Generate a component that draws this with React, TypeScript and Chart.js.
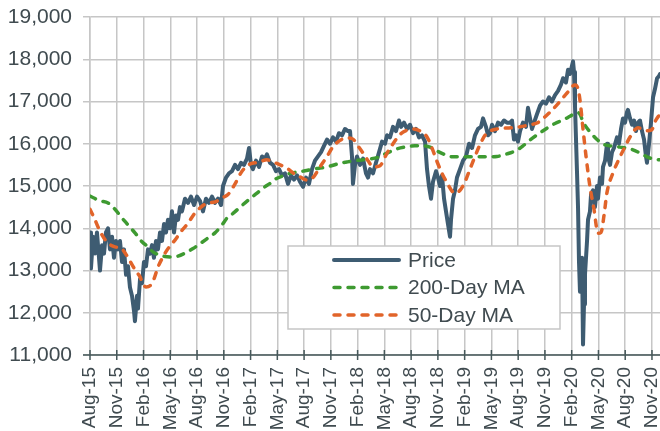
import { useEffect, useRef } from 'react';
import { Chart, registerables } from 'chart.js';

Chart.register(...registerables);

// ---- Data (x = months since start of Aug-2015) ----
const xTickLabels = [
  'Aug-15', 'Nov-15', 'Feb-16', 'May-16', 'Aug-16', 'Nov-16', 'Feb-17', 'May-17',
  'Aug-17', 'Nov-17', 'Feb-18', 'May-18', 'Aug-18', 'Nov-18', 'Feb-19', 'May-19',
  'Aug-19', 'Nov-19', 'Feb-20', 'May-20', 'Aug-20', 'Nov-20',
];
const monthsPerTick = 3;
const xMaxMonths = 63.9;
const yMin = 11000;
const yMax = 19000;
const yStep = 1000;

const seriesLabels = ['Price', '200-Day MA', '50-Day MA'];

const priceData: [number, number][] = [
  [0, 13900], [0.11, 13050], [0.34, 13800], [0.56, 13400], [0.78, 13900], [1.01, 13300], [1.12, 13000],
  [1.35, 13600], [1.57, 13400], [1.79, 13900], [2.02, 14000], [2.24, 13500], [2.47, 13800], [2.69, 13300],
  [2.91, 13700], [3.14, 13500], [3.36, 13700], [3.59, 13200], [3.81, 13500], [4.04, 12900], [4.26, 13100],
  [4.48, 12600], [4.71, 12400], [4.93, 12050], [5.04, 11800], [5.27, 12400], [5.38, 12100], [5.61, 12800],
  [5.83, 12700], [6.05, 13200], [6.28, 13100], [6.5, 13500], [6.73, 13400], [6.95, 13600], [7.17, 13300],
  [7.4, 13700], [7.62, 13500], [7.85, 13900], [8.07, 13700], [8.3, 14100], [8.52, 13900], [8.74, 14200],
  [8.97, 14000], [9.19, 14400], [9.42, 13900], [9.64, 14300], [9.87, 14200], [10.09, 14500], [10.31, 14400],
  [10.65, 14700], [10.99, 14600], [11.32, 14750], [11.66, 14550], [12.0, 14750], [12.33, 14650], [12.67, 14400],
  [13.0, 14700], [13.34, 14600], [13.68, 14750], [14.01, 14600], [14.35, 14700], [14.69, 14550], [14.91, 15000],
  [15.25, 15200], [15.58, 15300], [15.92, 15350], [16.26, 15500], [16.59, 15400], [16.93, 15550], [17.26, 15500],
  [17.6, 15650], [17.83, 15900], [18.05, 15500], [18.27, 15400], [18.61, 15600], [18.95, 15450], [19.28, 15700],
  [19.62, 15650], [19.84, 15750], [20.18, 15550], [20.52, 15500], [20.85, 15350], [21.19, 15400], [21.52, 15250],
  [21.86, 15300], [22.2, 15050], [22.53, 15250], [22.87, 15150], [23.21, 15250], [23.54, 15100], [23.88, 14980],
  [24.22, 15200], [24.55, 15050], [24.89, 15400], [25.22, 15600], [25.56, 15700], [25.9, 15800], [26.23, 15950],
  [26.57, 16100], [26.91, 16000], [27.24, 16150], [27.58, 16050], [27.91, 16250], [28.25, 16200], [28.59, 16350],
  [28.92, 16300], [29.15, 16300], [29.37, 15700], [29.48, 15050], [29.71, 15500], [29.93, 15700], [30.27, 15500],
  [30.61, 15650], [30.94, 15300], [31.17, 15200], [31.39, 15400], [31.73, 15300], [32.06, 15550], [32.4, 15800],
  [32.74, 16050], [33.07, 16000], [33.3, 16200], [33.63, 16150], [33.97, 16400], [34.3, 16300], [34.64, 16550],
  [34.87, 16400], [35.2, 16500], [35.54, 16350], [35.87, 16450], [36.21, 16250], [36.55, 16350], [36.88, 16150],
  [37.22, 16200], [37.56, 16050], [37.78, 15400], [38.0, 15000], [38.23, 14700], [38.45, 15100], [38.79, 15350],
  [39.01, 15200], [39.24, 15000], [39.46, 15250], [39.69, 14700], [39.91, 14400], [40.13, 14100], [40.36, 13800],
  [40.47, 14200], [40.7, 14700], [40.92, 14900], [41.14, 15200], [41.48, 15400], [41.82, 15600], [42.15, 15700],
  [42.49, 16000], [42.83, 15900], [43.16, 16200], [43.5, 16350], [43.83, 16400], [44.06, 16600], [44.39, 16400],
  [44.62, 16200], [44.84, 16250], [45.07, 16450], [45.4, 16300], [45.74, 16500], [46.08, 16450], [46.41, 16550],
  [46.75, 16500], [47.09, 16500], [47.31, 16550], [47.53, 16100], [47.76, 16200], [47.98, 16050], [48.21, 16300],
  [48.54, 16500], [48.88, 16400], [49.1, 16850], [49.33, 16600], [49.55, 16350], [49.78, 16500], [50.11, 16700],
  [50.45, 16900], [50.78, 17000], [51.12, 16950], [51.46, 17100], [51.79, 17000], [52.13, 17150], [52.47, 17250],
  [52.8, 17400], [53.03, 17550], [53.36, 17450], [53.59, 17750], [53.81, 17650], [54.04, 17850], [54.15, 17950],
  [54.26, 17700], [54.37, 16900], [54.6, 15300], [54.71, 14500], [54.82, 13200], [54.93, 12500], [55.04, 12700],
  [55.16, 13300], [55.27, 11250], [55.38, 12200], [55.49, 12900], [55.72, 13700], [55.83, 14200], [56.05, 14400],
  [56.17, 14800], [56.39, 14900], [56.61, 14500], [56.84, 15000], [56.95, 14700], [57.17, 15200], [57.4, 15050],
  [57.51, 15450], [57.74, 15600], [57.96, 16000], [58.07, 15700], [58.3, 15500], [58.52, 15800], [58.74, 15900],
  [59.08, 16150], [59.3, 16000], [59.53, 16350], [59.75, 16600], [59.98, 16500], [60.2, 16750], [60.31, 16800],
  [60.54, 16600], [60.76, 16450], [60.99, 16550], [61.21, 16300], [61.43, 16500], [61.66, 16550], [61.88, 16300],
  [62.11, 16100], [62.33, 15700], [62.44, 15550], [62.67, 16000], [62.89, 16500], [63.12, 17100], [63.34, 17300],
  [63.57, 17550], [63.79, 17600], [63.9, 17650],
];

const ma200Data: [number, number][] = [
  [0, 14760], [1.12, 14650], [2.02, 14600], [2.8, 14450], [3.48, 14270], [4.26, 14080], [5.04, 13890],
  [5.83, 13680], [6.5, 13560], [7.06, 13440], [7.62, 13380], [8.41, 13330], [9.08, 13320], [9.87, 13340],
  [10.65, 13410], [11.55, 13520], [12.44, 13650], [13.23, 13770], [14.01, 13890], [14.8, 14080], [15.47, 14270],
  [16.03, 14350], [16.82, 14500], [17.94, 14700], [18.72, 14830], [19.39, 14950], [20.18, 15060], [20.85, 15170],
  [21.64, 15240], [22.42, 15300], [23.21, 15330], [24.1, 15360], [25.0, 15400], [26.01, 15430], [26.91, 15470],
  [28.03, 15540], [28.81, 15570], [29.71, 15600], [30.61, 15620], [31.39, 15640], [32.17, 15670], [33.3, 15780],
  [34.42, 15880], [35.54, 15930], [36.43, 15950], [37.33, 15950], [38.12, 15920], [38.9, 15830], [39.8, 15740],
  [40.7, 15690], [42.04, 15690], [43.72, 15690], [45.63, 15700], [46.75, 15760], [47.87, 15850], [48.54, 15950],
  [49.33, 16090], [50.45, 16260], [51.23, 16370], [52.13, 16480], [53.03, 16560], [53.81, 16650], [54.6, 16740],
  [54.93, 16700], [55.27, 16520], [56.05, 16280], [56.84, 16100], [57.51, 15990], [58.3, 15950], [59.42, 15920],
  [60.54, 15880], [61.66, 15780], [62.44, 15690], [63.12, 15640], [63.9, 15620],
];

const ma50Data: [number, number][] = [
  [0, 14450], [0.56, 14200], [0.9, 14030], [1.46, 13800], [2.02, 13650], [2.8, 13560], [3.48, 13530],
  [4.04, 13380], [4.6, 13180], [5.16, 12980], [5.61, 12850], [5.94, 12680], [6.28, 12610], [6.73, 12640],
  [7.17, 12800], [7.62, 13080], [8.07, 13280], [8.41, 13410], [8.97, 13580], [9.53, 13720], [10.2, 13920],
  [10.99, 14120], [11.66, 14330], [12.44, 14500], [13.23, 14600], [14.01, 14620], [14.69, 14710], [15.47, 14800],
  [16.26, 15050], [17.04, 15350], [17.94, 15520], [18.83, 15560], [19.84, 15620], [20.52, 15570], [21.3, 15500],
  [22.09, 15420], [22.76, 15310], [23.54, 15220], [24.33, 15140], [25.0, 15200], [25.78, 15450], [26.57, 15700],
  [27.24, 15930], [28.03, 16080], [28.81, 16140], [29.48, 16110], [30.04, 15950], [30.61, 15780], [31.17, 15600],
  [31.73, 15450], [32.51, 15480], [33.3, 15780], [33.97, 16000], [34.75, 16220], [35.54, 16320], [36.21, 16350],
  [37.0, 16300], [37.78, 16160], [38.34, 15900], [38.9, 15580], [39.46, 15300], [40.02, 15080], [40.58, 14880],
  [40.92, 14830], [41.48, 14900], [42.04, 15100], [42.6, 15400], [43.16, 15700], [43.72, 15980], [44.28, 16200],
  [44.84, 16300], [45.63, 16350], [46.52, 16370], [47.42, 16380], [48.21, 16400], [49.33, 16450], [50.11, 16490],
  [51.23, 16680], [52.35, 16920], [53.48, 17200], [54.37, 17390], [54.71, 17300], [54.93, 17030], [55.27, 16350],
  [55.61, 15700], [56.05, 14980], [56.5, 14450], [56.95, 13880], [57.29, 13900], [57.62, 14300], [57.96, 14850],
  [58.63, 15310], [59.42, 15690], [59.98, 15930], [60.54, 16160], [61.43, 16380], [61.88, 16350], [62.33, 16310],
  [62.96, 16330], [63.41, 16550], [63.9, 16700],
];

// ---- Styles ----
const FONT = '"Liberation Sans", Arial, Helvetica, sans-serif';
const TEXT_COLOR = '#404b50';
const GRID_COLOR = '#c6c6c6';
const AXIS_COLOR = '#46585a';
const PRICE_COLOR = '#3e5c72';
const GREEN = '#3e9a31';
const ORANGE = '#e1642a';

const toXY = (arr: [number, number][]) => arr.map(([x, y]) => ({ x, y }));

const xAxisPlugin = {
  id: 'xAxisCross',
  afterDraw(chart: any) {
    const { ctx, chartArea } = chart;
    const xs = chart.scales.x;
    ctx.save();
    ctx.strokeStyle = AXIS_COLOR;
    ctx.lineWidth = 1.5;
    ctx.beginPath();
    ctx.moveTo(chartArea.left - 7, chartArea.bottom);
    ctx.lineTo(chartArea.right, chartArea.bottom);
    xs.ticks.forEach((t: any) => {
      const px = xs.getPixelForValue(t.value);
      ctx.moveTo(px, chartArea.bottom - 5);
      ctx.lineTo(px, chartArea.bottom + 5);
    });
    ctx.stroke();
    ctx.restore();
  },
};

const boxLegendPlugin = {
  id: 'boxLegend',
  afterDraw(chart: any) {
    const { ctx } = chart;
    const left = 288;
    const top = 246;
    const w = 272;
    const h = 83;
    ctx.save();
    ctx.fillStyle = '#ffffff';
    ctx.fillRect(left, top, w, h);
    ctx.strokeStyle = GRID_COLOR;
    ctx.lineWidth = 1.5;
    ctx.strokeRect(left, top, w, h);
    const datasets = chart.data.datasets;
    ctx.font = `21px ${FONT}`;
    ctx.textBaseline = 'middle';
    ctx.textAlign = 'left';
    datasets.forEach((ds: any, i: number) => {
      const y = top + 14 + i * 27.5;
      ctx.beginPath();
      ctx.strokeStyle = ds.borderColor;
      ctx.lineWidth = ds.borderWidth;
      ctx.lineCap = ds.borderCapStyle || 'butt';
      ctx.setLineDash(ds.borderDash || []);
      ctx.moveTo(334, y);
      ctx.lineTo(399, y);
      ctx.stroke();
      ctx.setLineDash([]);
      ctx.fillStyle = TEXT_COLOR;
      ctx.fillText(ds.label, 408, y + 1);
    });
    ctx.restore();
  },
};

export default function App() {
  const canvasRef = useRef<HTMLCanvasElement | null>(null);

  useEffect(() => {
    if (!canvasRef.current) return;
    Chart.defaults.font.family = FONT;
    const chart = new Chart(canvasRef.current, {
      type: 'line',
      data: {
        datasets: [
          {
            label: seriesLabels[0],
            data: toXY(priceData),
            borderColor: PRICE_COLOR,
            borderWidth: 4,
            pointRadius: 0,
            tension: 0,
            borderJoinStyle: 'round',
            borderCapStyle: 'round',
            order: 3,
          },
          {
            label: seriesLabels[1],
            data: toXY(ma200Data),
            borderColor: GREEN,
            borderWidth: 3.5,
            borderDash: [6, 8],
            borderCapStyle: 'round',
            pointRadius: 0,
            cubicInterpolationMode: 'monotone',
            order: 2,
          },
          {
            label: seriesLabels[2],
            data: toXY(ma50Data),
            borderColor: ORANGE,
            borderWidth: 3.5,
            borderDash: [6, 8],
            borderCapStyle: 'round',
            pointRadius: 0,
            cubicInterpolationMode: 'monotone',
            order: 1,
          },
        ],
      },
      options: {
        animation: false,
        responsive: false,
        layout: { padding: { top: 17, right: 0, left: 0, bottom: 0 } },
        plugins: {
          legend: { display: false },
          tooltip: { enabled: false },
        },
        scales: {
          x: {
            type: 'linear',
            min: 0,
            max: xMaxMonths,
            afterBuildTicks: (scale: any) => {
              scale.ticks = xTickLabels.map((_, i) => ({ value: i * monthsPerTick }));
            },
            afterFit: (scale: any) => {
              scale.height = 76;
              scale.paddingRight = 0;
              scale.paddingLeft = 0;
            },
            ticks: {
              autoSkip: false,
              minRotation: 90,
              maxRotation: 90,
              padding: 12,
              color: TEXT_COLOR,
              font: { size: 19, family: FONT },
              callback: (_v: any, i: number) => xTickLabels[i],
            },
            grid: { color: GRID_COLOR, lineWidth: 1.5, drawTicks: false },
            border: { display: false },
          },
          y: {
            min: yMin,
            max: yMax,
            afterFit: (scale: any) => {
              scale.width = 90;
              scale.paddingTop = 0;
              scale.paddingBottom = 0;
            },
            ticks: {
              stepSize: yStep,
              padding: 11,
              color: TEXT_COLOR,
              font: { size: 21, family: FONT },
              callback: (v: any) => Number(v).toLocaleString('en-US'),
            },
            grid: { color: GRID_COLOR, lineWidth: 1.5, tickLength: 7, drawTicks: true },
            border: { color: GRID_COLOR, width: 1.5 },
          },
        },
      },
      plugins: [xAxisPlugin, boxLegendPlugin],
    });
    return () => chart.destroy();
  }, []);

  return (
    <div style={{ position: 'absolute', left: 0, top: 0, width: 660, height: 431, background: '#fff' }}>
      <canvas ref={canvasRef} width={660} height={431} />
    </div>
  );
}
